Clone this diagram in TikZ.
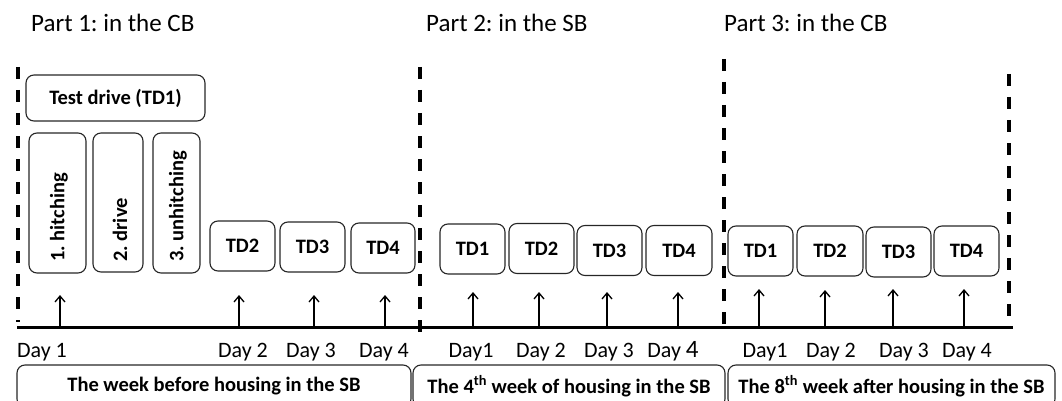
\documentclass[tikz,border=0pt]{standalone}
\usepackage{fontspec}
\setmainfont{Carlito}
\usetikzlibrary{arrows.meta}
\frenchspacing
\tikzset{
  rbox/.style={draw=black!85, line width=1.1pt, rounded corners=8pt, inner sep=0pt,
    font=\fontsize{20.5}{23}\selectfont\bfseries, align=center},
  vtext/.style={rotate=90, anchor=west, inner sep=0pt, font=\fontsize{20.5}{23}\selectfont\bfseries},
  title/.style={anchor=base west, inner sep=0pt, font=\fontsize{25}{28}\selectfont},
  daylab/.style={anchor=base, inner sep=0pt, font=\fontsize{22}{24}\selectfont},
  sep/.style={line width=3.5pt, dash pattern=on 12pt off 11pt},
  tline/.style={line width=3pt},
  uparrow/.style={line width=1.3pt, -{Straight Barb[length=6pt,width=10pt,line width=1.3pt]}},
}
\begin{document}
\begin{tikzpicture}[x=1pt,y=-1pt]
\useasboundingbox (0,0) rectangle (1062,401);
% titles
\node[title] (t1) at (31,32) {Part 1: in the CB};
\node[title] (t2) at (426,32) {Part 2: in the SB};
\node[title] (t3) at (724,32) {Part 3: in the CB};
% separators
\coordinate (s1a) at (18,67);   \coordinate (s1b) at (18,322);
\coordinate (s2a) at (420,67);  \coordinate (s2b) at (420,336);
\coordinate (s3a) at (724,59);  \coordinate (s3b) at (724,325);
\coordinate (s4a) at (1009,74); \coordinate (s4b) at (1009,325);
\draw[sep] (s1a) -- (s1b);
\draw[sep] (s2a) -- (s2b);
\draw[sep] (s3a) -- (s3b);
\draw[sep] (s4a) -- (s4b);
% timeline
\coordinate (tl0) at (17,327); \coordinate (tl1) at (1013,327);
\draw[tline] (tl0) -- (tl1);
% part 1 boxes
\node[rbox, minimum width=179pt, minimum height=46pt] (td) at (115.5,98) {Test drive (TD1)};
\node[rbox, minimum width=57pt, minimum height=140pt] (hit) at (57.5,203) {};
\node[rbox, minimum width=50pt, minimum height=139pt] (drv) at (118,202.5) {};
\node[rbox, minimum width=47pt, minimum height=140pt] (unh) at (176.5,203) {};
\node[vtext] (hitT) at (59,262) {1. hitching};
\node[vtext] (drvT) at (120,262) {2. drive};
\node[vtext] (unhT) at (178,262) {3. unhitching};
\node[rbox, minimum width=65pt, minimum height=50pt] (a2) at (242.5,246) {TD2};
\node[rbox, minimum width=65pt, minimum height=50pt] (a3) at (312.5,247) {TD3};
\node[rbox, minimum width=64pt, minimum height=50pt] (a4) at (383,248) {TD4};
% part 2 boxes
\node[rbox, minimum width=65pt, minimum height=50pt] (b1) at (472.5,249) {TD1};
\node[rbox, minimum width=65pt, minimum height=50pt] (b2) at (541.5,248.5) {TD2};
\node[rbox, minimum width=65pt, minimum height=50pt] (b3) at (609.5,250.5) {TD3};
\node[rbox, minimum width=66pt, minimum height=50pt] (b4) at (679,250.5) {TD4};
% part 3 boxes
\node[rbox, minimum width=65pt, minimum height=50pt] (c1) at (760.5,251) {TD1};
\node[rbox, minimum width=66pt, minimum height=50pt] (c2) at (830,251) {TD2};
\node[rbox, minimum width=65pt, minimum height=50pt] (c3) at (898.5,252) {TD3};
\node[rbox, minimum width=65pt, minimum height=50pt] (c4) at (966.5,251) {TD4};
% arrows
\foreach \n/\x/\t in {p1/60/295, p2/239/295, p3/314/295, p4/385/295,
                      q1/473/292, q2/539/292, q3/607/292, q4/678/292,
                      r1/759/289, r2/825/290, r3/893/289, r4/964/289}{
  \coordinate (\n0) at (\x,327);
  \coordinate (\n1) at (\x,\t);
  \draw[uparrow] (\n0) -- (\n1);
}
% day labels
\node[daylab] (d11) at (42,357) {Day 1};
\node[daylab] (d12) at (243,357) {Day 2};
\node[daylab] (d13) at (311,357) {Day 3};
\node[daylab] (d14) at (384,357) {Day 4};
\node[daylab] (d21) at (471,357) {Day1};
\node[daylab] (d22) at (541,357) {Day 2};
\node[daylab] (d23) at (609,357) {Day 3};
\node[daylab] (d24) at (673,357) {Day \fontsize{25}{26}\selectfont 4};
\node[daylab] (d31) at (765,357) {Day1};
\node[daylab] (d32) at (831,357) {Day 2};
\node[daylab] (d33) at (904,357) {Day 3};
\node[daylab] (d34) at (967,357) {Day 4};
% bottom boxes
\node[rbox, minimum width=394pt, minimum height=42pt] (w1) at (214,386) {The week before housing in the SB};
\node[rbox, minimum width=312pt, minimum height=42pt] (w2) at (569,386) {The 4\textsuperscript{th} week of housing in the SB};
\node[rbox, minimum width=327pt, minimum height=42pt] (w3) at (891.5,386) {The 8\textsuperscript{th} week after housing in the SB};
\end{tikzpicture}
\end{document}
